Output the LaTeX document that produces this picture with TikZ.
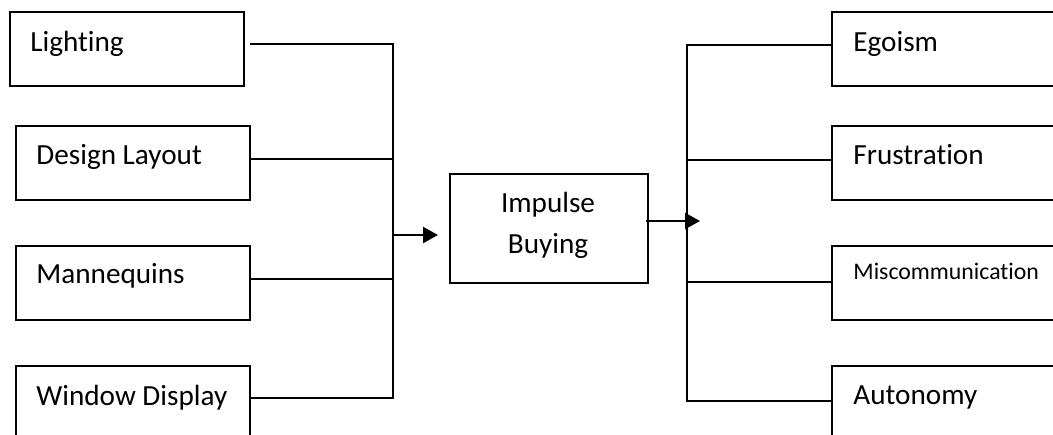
\documentclass[tikz,border=0pt]{standalone}
\usepackage{fontspec}
\setmainfont{Carlito}[Ligatures=NoCommon]
\usetikzlibrary{arrows.meta}
\begin{document}
\begin{tikzpicture}[x=0.5pt,y=-0.5pt,
  box/.style={draw,line width=1.1pt,rectangle,minimum width=117pt,minimum height=37pt,inner sep=0pt,anchor=north west},
  lbl/.style={font=\fontsize{14.6}{17}\selectfont,inner sep=0pt,anchor=base west},
  small/.style={font=\fontsize{11.9}{14}\selectfont,inner sep=0pt,anchor=base west},
  wire/.style={line width=1.1pt},
  arr/.style={line width=1.1pt,-{Triangle[length=7.5pt,width=8pt]}}]
\useasboundingbox (0,0) rectangle (1053,434);
\clip (0,0) rectangle (1053,434);
% boxes
\node[box] (l1) at (9,11) {};
\node[box] (l2) at (15,125) {};
\node[box] (l3) at (15,245) {};
\node[box] (l4) at (15,365) {};
\node[box,minimum width=99pt,minimum height=54.5pt] (c) at (449,173) {};
\node[box] (r1) at (831,11) {};
\node[box] (r2) at (831,125) {};
\node[box] (r3) at (831,245) {};
\node[box] (r4) at (831,365) {};
% texts
\node[lbl] (t1) at (30,51) {Lighting};
\node[lbl] (t2) at (36,164) {Design Layout};
\node[lbl] (t3) at (36,283) {Mannequins};
\node[lbl] (t4) at (36,405) {Window Display};
\node[lbl,anchor=base] (tc1) at (548,212) {Impulse};
\node[lbl,anchor=base] (tc2) at (548,253) {Buying};
\node[lbl] (u1) at (853,51) {Egoism};
\node[lbl] (u2) at (853,164) {Frustration};
\node[small] (u3) at (853,279) {Miscommunication};
\node[lbl] (u4) at (853,404) {Autonomy};
% junctions
\coordinate (a1) at (393,44);
\coordinate (a2) at (393,159);
\coordinate (a3) at (393,279);
\coordinate (a4) at (393,398);
\coordinate (ain) at (393,235);
\coordinate (b1) at (687,45);
\coordinate (b2) at (687,160);
\coordinate (b3) at (687,282);
\coordinate (b4) at (687,401);
\coordinate (bt) at (700,221);
% left connectors
\draw[wire] ([xshift=2.5pt]l1.east |- a1) -- (a1) -- (a4) -- (l4.east |- a4);
\draw[wire] (l2.east |- a2) -- (a2);
\draw[wire] (l3.east |- a3) -- (a3);
\draw[arr,shorten >=5.5pt] (ain) -- (c.west |- ain);
% right connectors
\draw[wire] (r1.west |- b1) -- (b1) -- (b4) -- (r4.west |- b4);
\draw[wire] (b2) -- (r2.west |- b2);
\draw[wire] (b3) -- (r3.west |- b3);
\draw[arr] ([xshift=-1.5pt]c.east |- bt) -- (bt);
\end{tikzpicture}
\end{document}
